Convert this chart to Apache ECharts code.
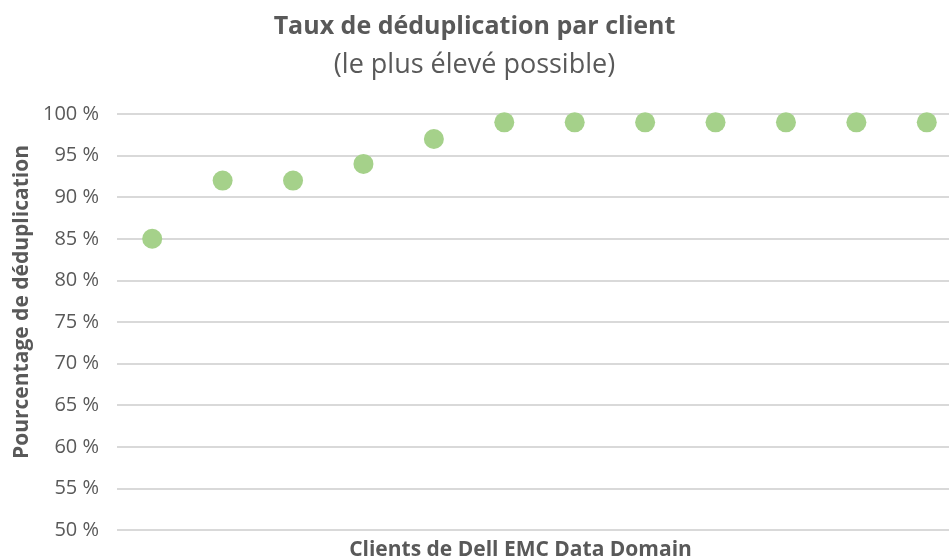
<!DOCTYPE html>
<html><head><meta charset="utf-8">
<script src="https://cdn.jsdelivr.net/npm/echarts@6/dist/echarts.min.js"></script>
<style>html,body{margin:0;padding:0;background:#fff;overflow:hidden}#c{width:949px;height:560px}</style>
</head><body><div id="c"></div>
<script>
const categories = ['C1','C2','C3','C4','C5','C6','C7','C8','C9','C10','C11','C12'];
const dedupValues = [85, 92, 92, 94, 97, 99, 99, 99, 99, 99, 99, 99];
const yTicks = [50, 55, 60, 65, 70, 75, 80, 85, 90, 95, 100];
const titleText = 'Taux de déduplication par client';
const subtitleText = '(le plus élevé possible)';
const xName = 'Clients de Dell EMC Data Domain';
const yName = 'Pourcentage de déduplication';

const chart = echarts.init(document.getElementById('c'), null, {renderer: 'canvas'});
const font = '"Open Sans", "Noto Sans", sans-serif';
chart.setOption({
  backgroundColor: '#fff',
  animation: false,
  title: {
    text: titleText,
    subtext: subtitleText,
    left: 'center',
    top: 9,
    itemGap: 13,
    textStyle: {fontFamily: font, fontSize: 25, fontWeight: 'bold', color: '#595959'},
    subtextStyle: {fontFamily: font, fontSize: 27, color: '#595959'}
  },
  grid: {left: 117, top: 114, width: 845, height: 416, containLabel: false, outerBoundsMode: 'none'},
  xAxis: {
    type: 'category',
    data: categories,
    boundaryGap: true,
    axisLine: {show: false},
    axisTick: {show: false},
    axisLabel: {show: false},
    name: xName,
    nameLocation: 'middle',
    nameGap: 10,
    nameTextStyle: {fontFamily: font, fontSize: 21, fontWeight: 'bold', color: '#595959', padding: [0, 38, 0, 0]}
  },
  yAxis: {
    type: 'value',
    min: 50, max: 100, interval: 5,
    axisLine: {show: false},
    axisTick: {show: false},
    splitLine: {lineStyle: {color: '#d9d9d9', width: 2}},
    axisLabel: {
      fontFamily: font, fontSize: 20, color: '#595959', margin: 18,
      formatter: v => yTicks.includes(v) ? v + ' %' : ''
    },
    name: yName,
    nameLocation: 'middle',
    nameGap: 80,
    nameRotate: 90,
    nameTextStyle: {fontFamily: font, fontSize: 21, fontWeight: 'bold', color: '#595959', padding: [0, 0, 0, 40]}
  },
  series: [{
    type: 'scatter',
    data: dedupValues,
    symbol: 'circle',
    symbolSize: 20,
    itemStyle: {color: '#a5d18a', opacity: 1}
  }]
});
</script></body></html>
